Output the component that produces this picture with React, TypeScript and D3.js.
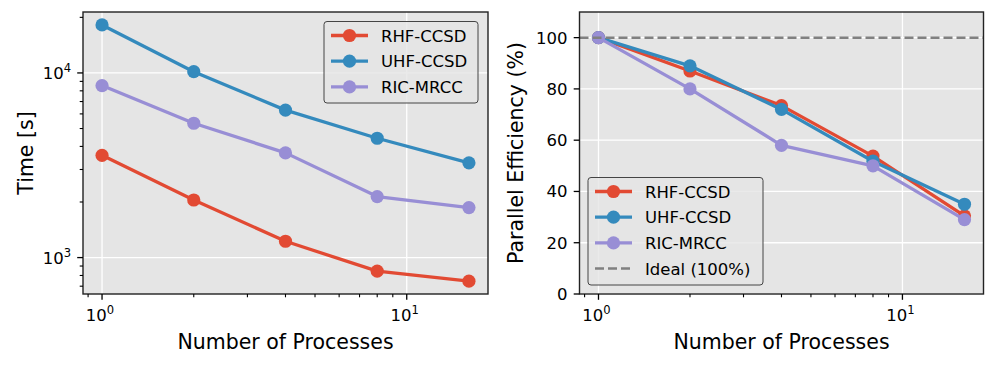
import React from "react";
import * as d3 from "d3";

// processes (x values)
const procs = [1, 2, 4, 8, 16];

// wall time in seconds
const timeRHF = [3580, 2050, 1226, 844, 745];
const timeUHF = [18200, 10160, 6290, 4430, 3260];
const timeRIC = [8540, 5340, 3690, 2140, 1866];

// parallel efficiency in %
const effRHF = [100, 87, 73.5, 53.8, 30.5];
const effUHF = [100, 89, 72, 51.8, 35];
const effRIC = [100, 80, 58, 50, 29];

const seriesNames = ["RHF-CCSD", "UHF-CCSD", "RIC-MRCC"];
const colors = ["#E24A33", "#348ABD", "#988ED5"];
const effTicks = [0, 20, 40, 60, 80, 100];
const idealLabel = "Ideal (100%)";

const FONT = "DejaVu Sans, sans-serif";
const TICK_FS = 16.5;
const LABEL_FS = 20.5;
const BG = "#E5E5E5";
const MAJ = 5.8;
const MIN = 3.3;

const sup = (base: string, exp: string, x: number, y: number, anchor: string) => (
  <text x={x} y={y} fontFamily={FONT} fontSize={TICK_FS} textAnchor={anchor} fill="#000">
    {base}
    <tspan dy={-7} fontSize={TICK_FS * 0.7}>{exp}</tspan>
  </text>
);

function LogXAxis({ x, top, bottom }: { x: any; top: number; bottom: number }) {
  const minors = [0.9, 2, 3, 4, 5, 6, 7, 8, 9];
  return (
    <g>
      {minors.map((m) => (
        <line key={m} x1={x(m)} x2={x(m)} y1={bottom} y2={bottom + MIN} stroke="#000" strokeWidth={1.1} />
      ))}
      {[1, 10].map((m, i) => (
        <g key={m}>
          <line x1={x(m)} x2={x(m)} y1={bottom} y2={bottom + MAJ} stroke="#000" strokeWidth={1.3} />
          {sup("10", String(i), x(m) - 2, bottom + 27, "middle")}
        </g>
      ))}
    </g>
  );
}

function Legend({ x, y, w, h, entries, dashed }: any) {
  return (
    <g>
      <rect x={x} y={y} width={w} height={h} rx={3} fill={BG} fillOpacity={0.8} stroke="#444" strokeWidth={1} />
      {entries.map((e: any, i: number) => {
        const cy = y + 14 + i * 25.7;
        return (
          <g key={e.name}>
            <line x1={x + 7} x2={x + 44} y1={cy} y2={cy} stroke={e.color} strokeWidth={3.3} />
            <circle cx={x + 25.5} cy={cy} r={6.6} fill={e.color} />
            <text x={x + 57} y={cy + 6} fontFamily={FONT} fontSize={TICK_FS}>{e.name}</text>
          </g>
        );
      })}
      {dashed && (
        <g>
          <line
            x1={x + 7} x2={x + 44}
            y1={y + 14 + entries.length * 25.7} y2={y + 14 + entries.length * 25.7}
            stroke="#808080" strokeWidth={2.5} strokeDasharray="9,4"
          />
          <text x={x + 57} y={y + 20 + entries.length * 25.7} fontFamily={FONT} fontSize={TICK_FS}>{dashed}</text>
        </g>
      )}
    </g>
  );
}

function TimePanel() {
  const left = 83, right = 488, top = 12, bottom = 294;
  const x = d3.scaleLog().domain([0.866, 18.48]).range([left, right]);
  const y = d3.scaleLog().domain([635, 21380]).range([bottom, top]);
  const sets = [timeRHF, timeUHF, timeRIC];
  const line = d3.line<number>().x((_, i) => x(procs[i])).y((d) => y(d));
  const yMinors = [700, 800, 900, 2000, 3000, 4000, 5000, 6000, 7000, 8000, 9000, 20000];
  return (
    <g>
      <rect x={left} y={top} width={right - left} height={bottom - top} fill={BG} />
      {[1, 10].map((m) => (
        <line key={m} x1={x(m)} x2={x(m)} y1={top} y2={bottom} stroke="#fff" strokeWidth={1.3} />
      ))}
      {[1000, 10000].map((m) => (
        <line key={m} x1={left} x2={right} y1={y(m)} y2={y(m)} stroke="#fff" strokeWidth={1.3} />
      ))}
      {sets.map((s, k) => (
        <g key={k}>
          <path d={line(s) || ""} fill="none" stroke={colors[k]} strokeWidth={3.3} strokeLinejoin="round" />
          {s.map((v, i) => (
            <circle key={i} cx={x(procs[i])} cy={y(v)} r={6.6} fill={colors[k]} />
          ))}
        </g>
      ))}
      <rect x={left} y={top} width={right - left} height={bottom - top} fill="none" stroke="#222" strokeWidth={1.4} />
      {yMinors.map((m) => (
        <line key={m} x1={left - MIN} x2={left} y1={y(m)} y2={y(m)} stroke="#000" strokeWidth={1.1} />
      ))}
      {[1000, 10000].map((m, i) => (
        <g key={m}>
          <line x1={left - MAJ} x2={left} y1={y(m)} y2={y(m)} stroke="#000" strokeWidth={1.3} />
          {sup("10", String(i + 3), left - 12, y(m) + 6, "end")}
        </g>
      ))}
      <LogXAxis x={x} top={top} bottom={bottom} />
      <text x={(left + right) / 2} y={349} textAnchor="middle" fontFamily={FONT} fontSize={LABEL_FS}>Number of Processes</text>
      <text transform={`translate(33,${(top + bottom) / 2}) rotate(-90)`} textAnchor="middle" fontFamily={FONT} fontSize={LABEL_FS}>Time [s]</text>
      <Legend x={324} y={21.5} w={154} h={81.5} entries={seriesNames.map((n, i) => ({ name: n, color: colors[i] }))} />
    </g>
  );
}

function EffPanel() {
  const left = 579.5, right = 983.5, top = 12, bottom = 294;
  const x = d3.scaleLog().domain([0.866, 18.48]).range([left, right]);
  const y = d3.scaleLinear().domain([0, 110]).range([bottom, top]);
  const sets = [effRHF, effUHF, effRIC];
  const line = d3.line<number>().x((_, i) => x(procs[i])).y((d) => y(d));
  return (
    <g>
      <rect x={left} y={top} width={right - left} height={bottom - top} fill={BG} />
      {[1, 10].map((m) => (
        <line key={m} x1={x(m)} x2={x(m)} y1={top} y2={bottom} stroke="#fff" strokeWidth={1.3} />
      ))}
      {effTicks.map((t) => (
        <line key={t} x1={left} x2={right} y1={y(t)} y2={y(t)} stroke="#fff" strokeWidth={1.3} />
      ))}
      {sets.map((s, k) => (
        <g key={k}>
          <path d={line(s) || ""} fill="none" stroke={colors[k]} strokeWidth={3.3} strokeLinejoin="round" />
          {s.map((v, i) => (
            <circle key={i} cx={x(procs[i])} cy={y(v)} r={6.6} fill={colors[k]} />
          ))}
        </g>
      ))}
      <line x1={left} x2={right} y1={y(100)} y2={y(100)} stroke="#808080" strokeWidth={2.5} strokeDasharray="9,4" />
      <rect x={left} y={top} width={right - left} height={bottom - top} fill="none" stroke="#222" strokeWidth={1.4} />
      {effTicks.map((t) => (
        <g key={t}>
          <line x1={left - MAJ} x2={left} y1={y(t)} y2={y(t)} stroke="#000" strokeWidth={1.3} />
          <text x={left - 12} y={y(t) + 6} textAnchor="end" fontFamily={FONT} fontSize={TICK_FS}>{t}</text>
        </g>
      ))}
      <LogXAxis x={x} top={top} bottom={bottom} />
      <text x={(left + right) / 2} y={349} textAnchor="middle" fontFamily={FONT} fontSize={LABEL_FS}>Number of Processes</text>
      <text transform={`translate(523,${(top + bottom) / 2}) rotate(-90)`} textAnchor="middle" fontFamily={FONT} fontSize={LABEL_FS}>Parallel Efficiency (%)</text>
      <Legend x={588} y={177.5} w={175} h={107.5} entries={seriesNames.map((n, i) => ({ name: n, color: colors[i] }))} dashed={idealLabel} />
    </g>
  );
}

export default function App() {
  return (
    <svg width={996} height={366} style={{ position: "fixed", left: 0, top: 0, background: "#fff" }}>
      <TimePanel />
      <EffPanel />
    </svg>
  );
}
